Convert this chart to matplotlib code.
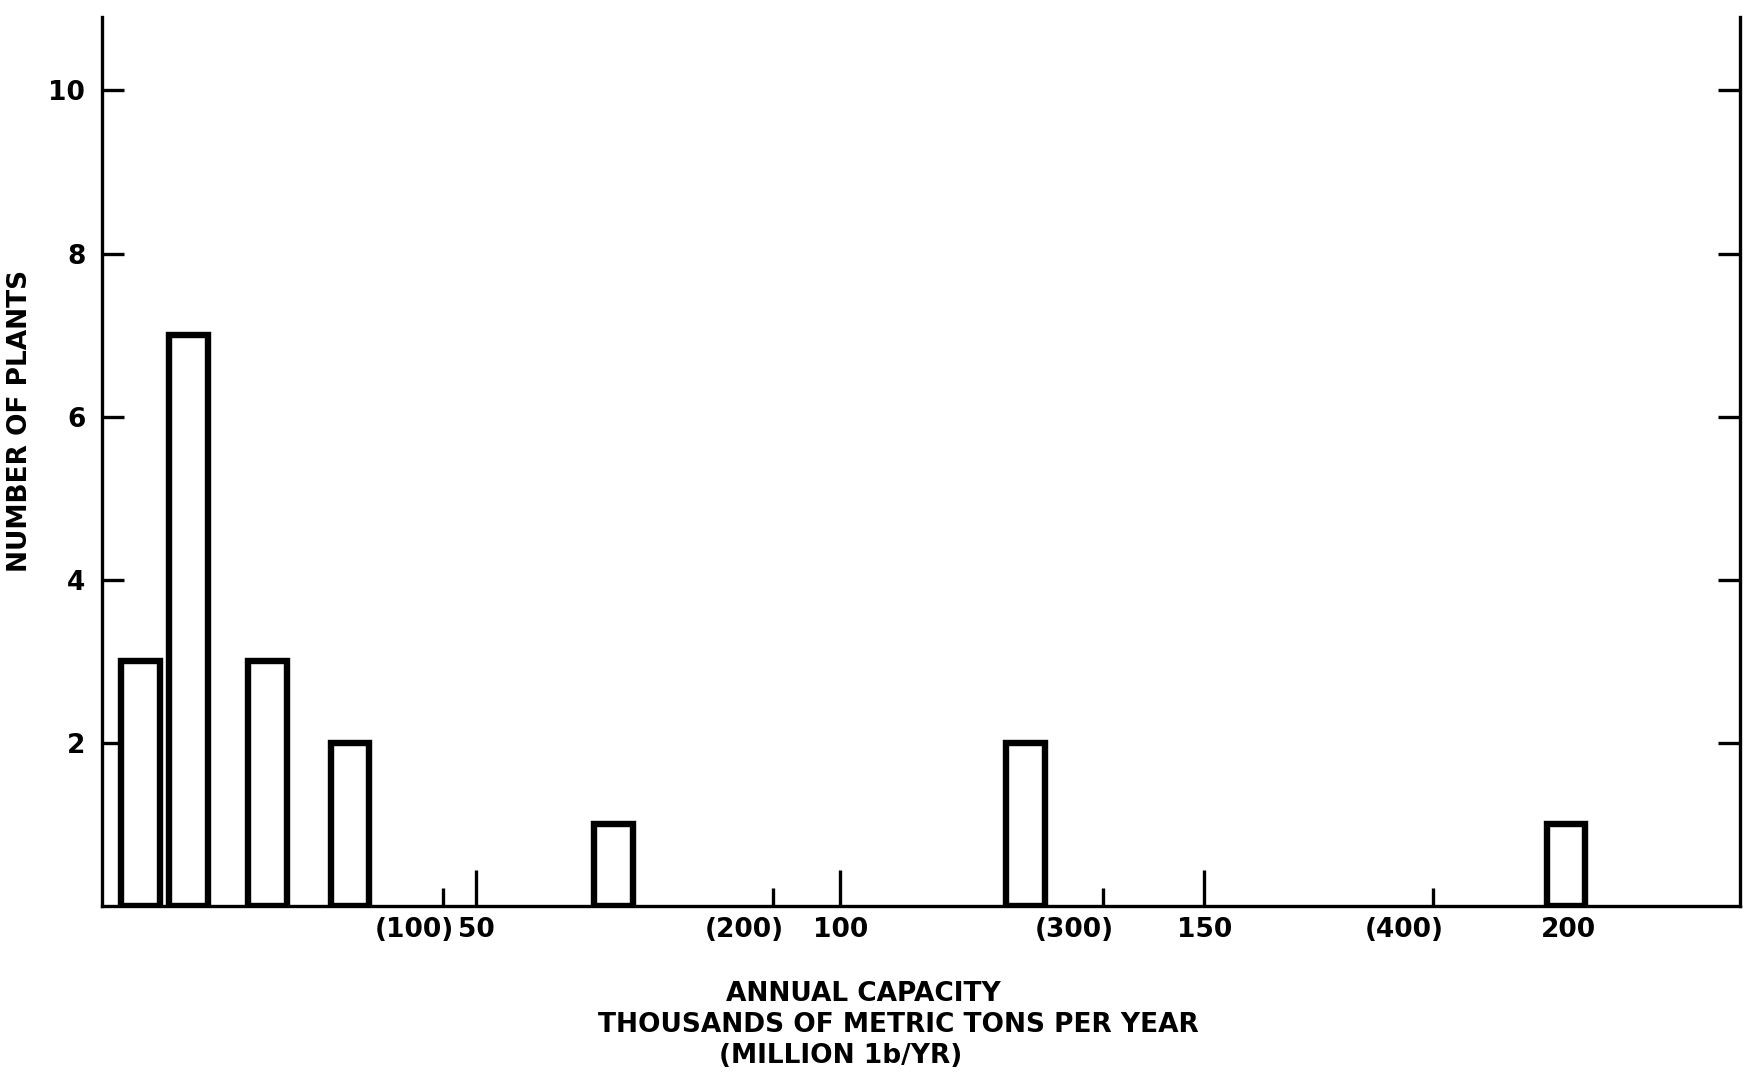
#!/usr/bin/python

import matplotlib
matplotlib.use("Agg")
import matplotlib.pyplot as plt

# plant capacities, thousand metric tons per year, and number of plants at each size
capacity_kt = [3.8, 10.4, 21.3, 32.6, 68.8, 125.4, 199.7]
nb_plants = [3, 7, 3, 2, 1, 2, 1]

# axis graduations
metric_ticks = [50, 100, 150, 200]
metric_labels = ["50", "100", "150", "200"]
mlb_ticks = [100, 200, 300, 400]          # million lb / yr
mlb_labels = ["(100)", "(200)", "(300)", "(400)"]
y_ticks = [2, 4, 6, 8, 10]

LB_PER_TONNE = 2.2046


def main():
    plt.rcParams['font.family'] = ['DejaVu Sans']
    plt.rcParams['font.weight'] = 'bold'
    fig = plt.figure(figsize=(17.62, 10.78), dpi=100)
    ax = fig.add_axes([0.0579, 0.1596, 0.9296, 0.8246])

    ax.bar(capacity_kt, nb_plants, width=5.3, bottom=0, facecolor="white",
           edgecolor="black", linewidth=4.6, zorder=3)

    ax.set_xlim(-1.45, 223.6)
    ax.set_ylim(0, 10.9)

    for side in ["left", "right", "bottom"]:
        ax.spines[side].set_linewidth(2.4)
    ax.spines["top"].set_visible(False)

    # y graduations on both sides, pointing inwards
    ax.set_yticks(y_ticks)
    ax.set_yticklabels([str(v) for v in y_ticks], fontsize=19, fontweight="bold")
    ax.tick_params(axis="y", which="both", direction="in", length=16, width=2.4,
                   left=True, right=True, labelleft=True, labelright=False, pad=12)

    # metric scale: long ticks, million lb scale: short ticks
    ax.set_xticks(metric_ticks)
    ax.set_xticklabels(metric_labels, fontsize=19, fontweight="bold")
    mlb_pos = [v / LB_PER_TONNE for v in mlb_ticks]
    ax.set_xticks(mlb_pos, minor=True)
    ax.tick_params(axis="x", which="major", direction="in", length=26, width=2.4, pad=8)
    ax.tick_params(axis="x", which="minor", direction="in", length=13, width=2.4,
                   labelbottom=False)
    # the 200 graduation is hidden by the last bar
    ax.xaxis.get_major_ticks()[3].tick1line.set_visible(False)

    for pos, lbl in zip(mlb_pos, mlb_labels):
        ax.annotate(lbl, xy=(pos, 0), xycoords=("data", "axes fraction"),
                    xytext=(8, -8), textcoords="offset points",
                    ha="right", va="top", fontsize=19, fontweight="bold")

    fig.text(0.0115, 0.6095, "NUMBER OF PLANTS", rotation=90, fontsize=19,
             ha="center", va="center")
    fig.text(0.490, 0.078, "ANNUAL CAPACITY", fontsize=19, ha="center", va="center")
    fig.text(0.510, 0.049, "THOUSANDS OF METRIC TONS PER YEAR", fontsize=19,
             ha="center", va="center")
    fig.text(0.477, 0.020, "(MILLION 1b/YR)", fontsize=19, ha="center", va="center")

    plt.savefig("out.png", dpi=100)


if __name__ == "__main__":
    main()
